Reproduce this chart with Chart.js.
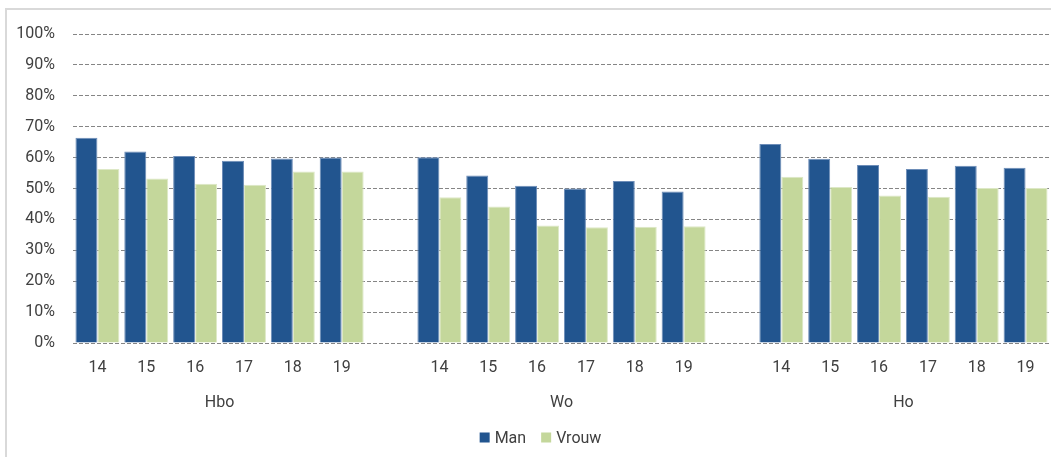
<!DOCTYPE html>
<html>
<head>
<meta charset="utf-8">
<script src="https://cdn.jsdelivr.net/npm/chart.js@4/dist/chart.umd.min.js"></script>
<style>
html,body{margin:0;padding:0;background:#fff;}
#wrap{position:relative;width:1051px;height:457px;overflow:hidden;}
#frame{position:absolute;left:5px;top:8px;width:1060px;height:470px;border:2px solid #d9d9d9;box-sizing:border-box;}
canvas{position:absolute;left:0;top:0;}
</style>
</head>
<body>
<div id="wrap"><div id="frame"></div><canvas id="c" width="1051" height="457"></canvas></div>
<script>
const years = ['14','15','16','17','18','19'];
const groups = ['Hbo','Wo','Ho'];
const categories = ['14','15','16','17','18','19','','14','15','16','17','18','19','','14','15','16','17','18','19'];
const manValues = [66.4,62.0,60.5,59.0,59.7,60.0,null,60.1,54.2,50.9,50.0,52.4,49.0,null,64.4,59.6,57.6,56.3,57.4,56.7];
const vrouwValues = [56.3,53.2,51.5,51.2,55.5,55.5,null,47.2,44.2,38.0,37.5,37.6,37.8,null,53.8,50.5,47.7,47.3,50.2,50.2];
const yTicks = [0,10,20,30,40,50,60,70,80,90,100];
const groupRanges = [[0,5],[7,12],[14,19]];

const FONT = 'Roboto, "DejaVu Sans", sans-serif';
const TXT = '#404040';

const groupLabels = {
  id:'groupLabels',
  afterDraw(chart){
    const x = chart.scales.x, ctx = chart.ctx;
    ctx.save();
    ctx.font = '16px ' + FONT;
    ctx.fillStyle = TXT;
    ctx.textAlign = 'center';
    ctx.textBaseline = 'middle';
    groupRanges.forEach((r,i)=>{
      const cx = (x.getPixelForValue(r[0]) + x.getPixelForValue(r[1]))/2;
      ctx.fillText(groups[i], cx, 403);
    });
    // legend
    ctx.font = '16px ' + FONT;
    ctx.textAlign = 'left';
    const box = 10, gap = 5, itemGap = 15;
    const ds = chart.data.datasets;
    const widths = ds.map(d => box + gap + ctx.measureText(d.label).width);
    const total = widths.reduce((a,b)=>a+b,0) + itemGap*(ds.length-1);
    let lx = 540.5 - total/2;
    const ly = 437.5;
    ds.forEach((d,i)=>{
      ctx.fillStyle = d.backgroundColor;
      ctx.fillRect(lx, ly - box/2, box, box);
      ctx.fillStyle = TXT;
      ctx.fillText(d.label, lx + box + gap, ly + 1);
      lx += widths[i] + itemGap;
    });
    ctx.restore();
  }
};

new Chart(document.getElementById('c'), {
  type:'bar',
  data:{
    labels: categories,
    datasets:[
      {label:'Man', data:manValues, backgroundColor:'#22558F', borderColor:'#6d8db8', borderWidth:1, barPercentage:1, categoryPercentage:0.9},
      {label:'Vrouw', data:vrouwValues, backgroundColor:'#C4D79B', borderColor:'#dde8c6', borderWidth:1, barPercentage:1, categoryPercentage:0.9}
    ]
  },
  options:{
    responsive:false,
    animation:false,
    layout:{padding:{left:6,right:1,top:34,bottom:38}},
    plugins:{
      legend:{display:false},
      tooltip:{enabled:false}
    },
    scales:{
      x:{
        grid:{display:false,drawTicks:false},
        border:{display:false},
        ticks:{font:{family:FONT,size:16},color:TXT,padding:15,maxRotation:0,autoSkip:false},
        afterFit(s){ s.height = 76; }
      },
      y:{
        min:0,max:100,
        afterBuildTicks(s){ s.ticks = yTicks.map(v=>({value:v})); },
        grid:{color:'#858585',lineWidth:1,drawTicks:false},
        border:{display:false,dash:[4,2]},
        ticks:{font:{family:FONT,size:16},color:TXT,padding:18,callback:v=>v+'%'},
        afterFit(s){ s.width = 67; }
      }
    }
  },
  plugins:[groupLabels]
});
</script>
</body>
</html>
